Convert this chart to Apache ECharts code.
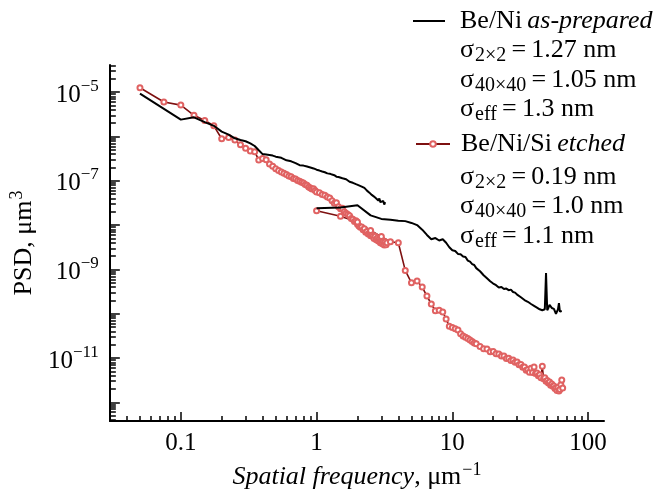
<!DOCTYPE html>
<html><head><meta charset="utf-8">
<script src="https://cdn.jsdelivr.net/npm/echarts@6/dist/echarts.min.js"></script>
<style>html,body{margin:0;padding:0;background:#fff}#c{width:659px;height:495px}</style>
</head><body><div id="c"></div>
<script>
// ---- data (spatial frequency in 1/um, PSD in um^3) ----
const blackFreqA = [0.05,0.1,0.125,0.15,0.175,0.2,0.225,0.25,0.275,0.3,0.325,0.35,0.375,0.4,0.425,0.45,0.475,0.5,
  0.55,0.6,0.65,0.7,0.75,0.8,0.85,0.9,0.95,1.0,
  1.05,1.1,1.15,1.2,1.25,1.3,1.35,1.4,1.45,1.5,1.55,1.6,1.65,1.7,1.75,1.8,1.85,1.9,1.95,2.0,
  2.05,2.1,2.15,2.2,2.25,2.3,2.35,2.4,2.45,2.5,2.55,2.6,2.65,2.7,2.75,2.8,2.85,2.9,2.95,3.0,3.05,3.1,3.15,3.2];
const blackPsdA = [9.3e-6,2.4e-6,2.7e-6,2.1e-6,1.74e-6,1.29e-6,1.1e-6,9.1e-7,8.3e-7,7.8e-7,7.0e-7,6.1e-7,4.9e-7,4.0e-7,3.9e-7,3.8e-7,3.7e-7,3.5e-7,
  3.3e-7,2.9e-7,2.75e-7,2.5e-7,2.25e-7,2.2e-7,2.1e-7,2.0e-7,1.9e-7,1.78e-7,
  1.70e-7,1.62e-7,1.56e-7,1.47e-7,1.45e-7,1.38e-7,1.34e-7,1.24e-7,1.22e-7,1.17e-7,
  1.14e-7,1.07e-7,1.08e-7,1.01e-7,9.5e-8,9.3e-8,9.0e-8,8.6e-8,8.4e-8,8.0e-8,
  7.9e-8,7.5e-8,7.4e-8,6.8e-8,6.9e-8,6.3e-8,6.0e-8,5.6e-8,5.4e-8,5.2e-8,
  4.8e-8,4.9e-8,4.4e-8,4.6e-8,4.0e-8,4.1e-8,3.6e-8,4.0e-8,3.3e-8,3.6e-8,3.1e-8,3.5e-8,2.9e-8,3.3e-8];

const blackFreqB = [1,1.5,2,2.5,3,3.5,4,4.5,5,5.5,6,6.5,7,7.5,8,8.5,9,9.5,10,10.5,11,11.5,12,12.5,13,13.5,14,14.5,15,
  16,17,18,19,20,21,22,23,24,25,26,27,28,29,30,31,32,33,34,35,36,37,38,39,40,41,42,43,44,45,
  46,47,48,49,50,51,52,53,54,55,56,57,58,59,60,61,62,63,64];
const blackPsdB = [2.4e-8,2.5e-8,2.8e-8,1.66e-8,1.38e-8,1.32e-8,1.26e-8,1.23e-8,1.12e-8,1.0e-8,7.9e-9,6.0e-9,4.8e-9,5.1e-9,4.5e-9,4.8e-9,4.0e-9,3.16e-9,2.7e-9,2.6e-9,2.24e-9,2.2e-9,1.95e-9,1.9e-9,1.58e-9,1.5e-9,1.32e-9,1.26e-9,1.07e-9,
  9.1e-10,7.4e-10,6.3e-10,5.4e-10,4.8e-10,4.4e-10,3.9e-10,4.0e-10,3.6e-10,3.7e-10,
  3.4e-10,3.5e-10,3.1e-10,3.0e-10,2.7e-10,2.6e-10,2.35e-10,2.3e-10,2.04e-10,2.04e-10,
  1.86e-10,1.78e-10,1.66e-10,1.62e-10,1.51e-10,1.48e-10,1.38e-10,1.35e-10,1.26e-10,1.17e-10,
  1.2e-10,1.23e-10,1.26e-10,8.3e-10,1.2e-10,1.35e-10,1.58e-10,1.45e-10,1.35e-10,1.41e-10,
  1.29e-10,1.17e-10,1.0e-10,9.3e-11,1.26e-10,1.74e-10,1.12e-10,1.07e-10,1.15e-10];

const redFreqA = [0.05,0.075,0.1,0.125,0.15,0.175,0.2,0.225,0.25,0.275,0.3,0.325,0.35,0.375,0.4,0.425,0.45,0.475,0.5,
  0.525,0.55,0.575,0.6,0.625,0.65,0.675,0.7,0.725,0.75,0.775,0.8,0.825,0.85,0.875,0.9,0.925,0.95,0.975,1.0,
  1.05,1.1,1.15,1.2,1.25,1.3,1.35,1.4,1.45,1.5,1.55,1.6,1.65,1.7,1.75,1.8,1.85,1.9,1.95,2.0,
  2.05,2.1,2.15,2.2,2.25,2.3,2.35,2.4,2.45,2.5,2.55,2.6,2.65,2.7,2.75,2.8,2.85,2.9,2.95,3.0,
  3.05,3.1,3.15,3.2,3.25,3.3];
const redPsdA = [1.26e-5,6.0e-6,5.1e-6,3.0e-6,2.3e-6,1.74e-6,8.9e-7,9.5e-7,8.3e-7,6.5e-7,5.4e-7,4.7e-7,4.5e-7,2.95e-7,3.2e-7,3.0e-7,2.4e-7,2.14e-7,1.86e-7,
  1.7e-7,1.58e-7,1.48e-7,1.38e-7,1.29e-7,1.23e-7,1.12e-7,1.10e-7,1.02e-7,9.8e-8,9.3e-8,8.9e-8,8.3e-8,7.9e-8,7.2e-8,6.9e-8,6.5e-8,6.6e-8,6.0e-8,5.6e-8,
  5.4e-8,4.9e-8,4.7e-8,4.3e-8,4.1e-8,3.55e-8,3.1e-8,3.2e-8,2.6e-8,2.35e-8,
  2.4e-8,2.0e-8,1.86e-8,1.74e-8,1.62e-8,1.41e-8,1.35e-8,1.2e-8,1.26e-8,1.05e-8,
  9.5e-9,8.9e-9,9.1e-9,7.9e-9,8.3e-9,6.9e-9,7.2e-9,6.3e-9,6.6e-9,5.75e-9,
  6.2e-9,5.5e-9,5.0e-9,5.6e-9,4.7e-9,5.1e-9,4.4e-9,4.9e-9,4.0e-9,4.6e-9,
  3.8e-9,4.4e-9,3.55e-9,4.2e-9,3.6e-9,4.0e-9];

const redFreqB = [1,1.5,2,2.5,3,3.5,4,4.5,5,5.5,6,6.5,7,7.5,8,8.5,9,9.5,10,10.5,11,11.5,12,12.5,13,13.5,14,14.5,15,
  16,17,18,19,20,21,22,23,24,25,26,27,28,29,30,31,32,33,34,35,36,37,38,39,40,41,42,43,44,45,
  46,47,48,49,50,51,52,53,54,55,56,57,58,59,60,61,62,63,64,65];
const redPsdB = [2.1e-8,1.58e-8,1.17e-8,7.6e-9,5.5e-9,4.2e-9,4.0e-9,9.5e-10,5.0e-10,5.5e-10,4.0e-10,2.5e-10,1.66e-10,1.17e-10,1.2e-10,1.1e-10,
  7.6e-11,5.2e-11,4.9e-11,4.6e-11,4.3e-11,3.55e-11,3.16e-11,2.95e-11,2.75e-11,2.57e-11,2.35e-11,2.2e-11,2.1e-11,
  1.82e-11,1.62e-11,1.60e-11,1.38e-11,1.40e-11,1.25e-11,1.24e-11,1.12e-11,1.11e-11,9.8e-12,
  9.9e-12,8.8e-12,9.0e-12,8.0e-12,8.1e-12,7.1e-12,7.2e-12,6.2e-12,6.3e-12,5.3e-12,
  5.5e-12,4.8e-12,5.9e-12,4.7e-12,6.3e-12,4.5e-12,4.6e-12,4.0e-12,4.2e-12,3.6e-12,
  6.5e-12,3.4e-12,3.6e-12,3.0e-12,3.1e-12,2.75e-12,2.9e-12,2.45e-12,2.6e-12,2.3e-12,
  2.35e-12,2.05e-12,2.1e-12,1.85e-12,2.2e-12,1.8e-12,1.95e-12,2.5e-12,3.2e-12,2.1e-12];

const xLabelValues = [0.1, 1, 10, 100];
const yLabelValues = [1e-5, 1e-7, 1e-9, 1e-11];
const seriesNames = ['Be/Ni as-prepared', 'Be/Ni/Si etched'];
const statsBlack = [['2×2', '1.27'], ['40×40', '1.05'], ['eff', '1.3']];
const statsRed = [['2×2', '0.19'], ['40×40', '1.0'], ['eff', '1.1']];

// ---- axis ranges & ticks ----
const X_MIN = 0.03, X_MAX = 131, Y_MIN = 3.8e-13, Y_MAX = 4.1e-5;
const xMajor = [], xMinor = [], yMajor = [], yMinor = [];
for (let e = -2; e <= 2; e++) {
  const p = parseFloat('1e' + e);
  if (p >= X_MIN && p <= X_MAX) xMajor.push(p);
  for (let m = 2; m <= 9; m++) { const v = parseFloat(m + 'e' + e); if (v > X_MIN * 1.05 && v < X_MAX) xMinor.push(v); }
}
for (let e = -13; e <= -4; e++) {
  const p = parseFloat('1e' + e);
  if (p >= Y_MIN && p <= Y_MAX) yMajor.push(p);
  for (let m = 2; m <= 9; m++) { const v = parseFloat(m + 'e' + e); if (v >= Y_MIN && v <= Y_MAX * 1.01) yMinor.push(v); }
}

const FF = '"Liberation Serif", "Times New Roman", serif';
function zip(f, p) { return f.map((v, i) => [v, p[i]]); }

const chart = echarts.init(document.getElementById('c'), null, {renderer: 'canvas'});
const grid = {left: 103, right: 55, top: 65, bottom: 74};

const xBase = {type: 'log', logBase: 10, min: X_MIN, max: X_MAX, gridIndex: 0, position: 'bottom', splitLine: {show: false}};
const yBase = {type: 'log', logBase: 10, min: Y_MIN, max: Y_MAX, gridIndex: 0, position: 'left', splitLine: {show: false}};

const lineBlack = {type: 'line', name: seriesNames[0], symbol: 'none', lineStyle: {color: '#000', width: 2}, itemStyle: {color: '#000'}, z: 4, animation: false};
const lineRed = {type: 'line', name: seriesNames[1], symbol: 'emptyCircle', symbolSize: 5, lineStyle: {color: '#7d1010', width: 1.6},
  itemStyle: {color: '#e06262', borderWidth: 1}, z: 3, animation: false};

function statText(rows, y0) {
  return rows.map((r, i) => ({
    type: 'text', x: 460, y: y0[i],
    style: {
      text: '{s|σ}{sub|' + r[0] + '}{n|\u2009=\u2009' + r[1] + ' nm}',
      verticalAlign: 'middle', align: 'left',
      rich: {
        s: {fontFamily: FF, fontSize: 26, color: '#000'},
        sub: {fontFamily: FF, fontSize: 20, padding: [12, 0, 0, 1], color: '#000'},
        n: {fontFamily: FF, fontSize: 26, color: '#000'}
      }
    }
  }));
}

const legendCommon = {orient: 'vertical', padding: 0, selectedMode: false, itemGap: 0,
  textStyle: {fontFamily: FF, fontSize: 26, color: '#000'}};

chart.setOption({
  animation: false,
  backgroundColor: '#fff',
  grid: grid,
  xAxis: [
    Object.assign({}, xBase, {
      axisLine: {show: true, lineStyle: {color: '#000', width: 2}},
      axisTick: {show: true, inside: true, length: 9, lineStyle: {color: '#000', width: 1.5}, customValues: xMajor},
      axisLabel: {show: true, margin: 10, fontFamily: FF, fontSize: 25, color: '#000', customValues: xLabelValues,
        formatter: v => String(v)},
      name: '{i|Spatial frequency}{n|, μm}{sup|−1}', nameLocation: 'middle', nameGap: 40,
      nameTextStyle: {rich: {
        i: {fontFamily: FF, fontSize: 26, fontStyle: 'italic', color: '#000'},
        n: {fontFamily: FF, fontSize: 26, color: '#000'},
        sup: {fontFamily: FF, fontSize: 18, color: '#000', padding: [0, 0, 14, 1]}
      }}
    }),
    Object.assign({}, xBase, {
      axisLine: {show: false},
      axisTick: {show: true, inside: true, length: 5, lineStyle: {color: '#000', width: 1.5}, customValues: xMinor},
      axisLabel: {show: false}
    })
  ],
  yAxis: [
    Object.assign({}, yBase, {
      axisLine: {show: true, lineStyle: {color: '#000', width: 2}},
      axisTick: {show: true, inside: true, length: 10, lineStyle: {color: '#000', width: 1.5}, customValues: yMajor},
      axisLabel: {show: true, margin: 11, customValues: yLabelValues,
        formatter: v => '{b|10}{s|−' + Math.round(-Math.log10(v)) + '}',
        rich: {
          b: {fontFamily: FF, fontSize: 25, color: '#000', padding: [6, 0, 0, 0]},
          s: {fontFamily: FF, fontSize: 17, color: '#000', padding: [0, 0, 12, 0]}
        }},
      name: '{n|PSD, μm}{sup|3}', nameLocation: 'middle', nameGap: 63,
      nameTextStyle: {rich: {
        n: {fontFamily: FF, fontSize: 26, color: '#000'},
        sup: {fontFamily: FF, fontSize: 18, color: '#000', padding: [0, 0, 14, 1]}
      }}
    }),
    Object.assign({}, yBase, {
      axisLine: {show: false},
      axisTick: {show: true, inside: true, length: 6, lineStyle: {color: '#000', width: 1.5}, customValues: yMinor},
      axisLabel: {show: false}
    })
  ],
  legend: [
    Object.assign({}, legendCommon, {
      data: [{name: seriesNames[0], icon: 'rect'}], left: 413, top: 8, itemWidth: 32, itemHeight: 2,
      formatter: () => '{n|Be/Ni}{i|\u2009as-prepared}',
      textStyle: {rich: {
        n: {fontFamily: FF, fontSize: 26, color: '#000', padding: [0, 0, 0, 10]},
        i: {fontFamily: FF, fontSize: 26, color: '#000', fontStyle: 'italic'}
      }}
    }),
    Object.assign({}, legendCommon, {
      data: [seriesNames[1]], left: 415, top: 131, itemWidth: 34, itemHeight: 7,
      formatter: () => '{n|Be/Ni/Si}{i|\u2009etched}',
      textStyle: {rich: {
        n: {fontFamily: FF, fontSize: 26, color: '#000', padding: [0, 0, 0, 6]},
        i: {fontFamily: FF, fontSize: 26, color: '#000', fontStyle: 'italic'}
      }}
    })
  ],
  graphic: statText(statsBlack, [50, 80, 109]).concat(statText(statsRed, [177, 206, 236])),
  series: [
    Object.assign({}, lineRed, {data: zip(redFreqA, redPsdA)}),
    Object.assign({}, lineRed, {data: zip(redFreqB, redPsdB)}),
    Object.assign({}, lineBlack, {data: zip(blackFreqA, blackPsdA)}),
    Object.assign({}, lineBlack, {data: zip(blackFreqB, blackPsdB)})
  ]
});
</script>
</body></html>
